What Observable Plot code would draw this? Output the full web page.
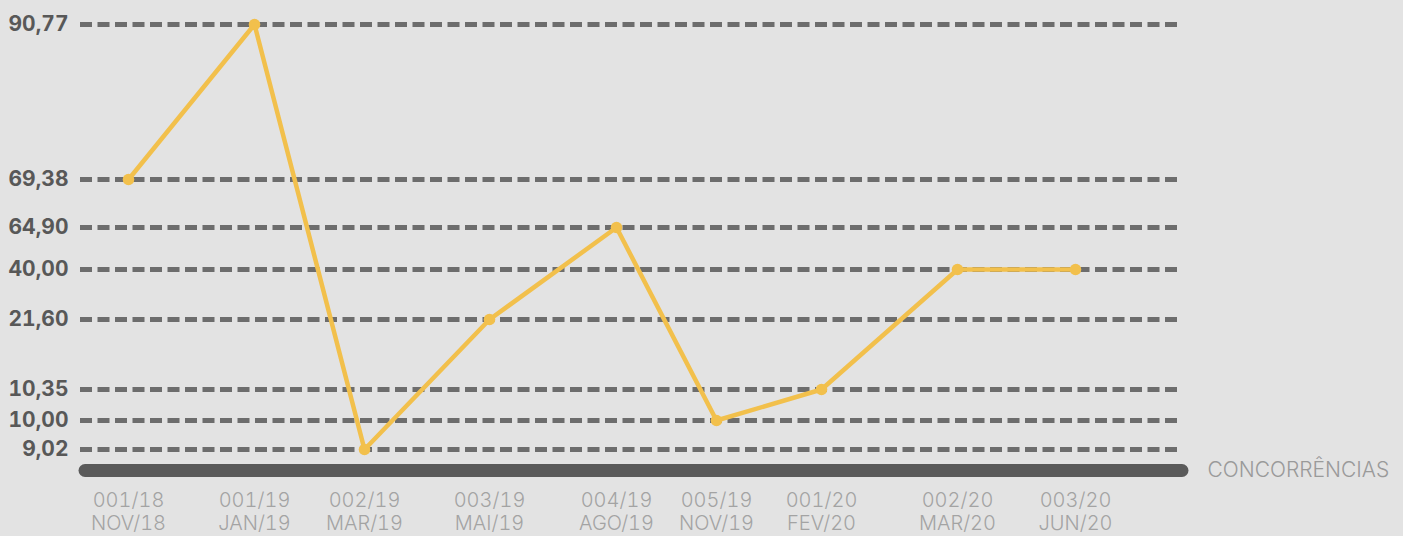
<!DOCTYPE html>
<html>
<head>
<meta charset="utf-8">
<script src="https://cdn.jsdelivr.net/npm/d3@7"></script>
<script src="https://cdn.jsdelivr.net/npm/@observablehq/plot@0.6"></script>
<style>
  html, body { margin: 0; padding: 0; background: #e3e3e3; }
  #chart svg { display: block; }
</style>
</head>
<body>
<div id="chart"></div>
<script>
// Data
const codes  = ["001/18", "001/19", "002/19", "003/19", "004/19", "005/19", "001/20", "002/20", "003/20"];
const months = ["NOV/18", "JAN/19", "MAR/19", "MAI/19", "AGO/19", "NOV/19", "FEV/20", "MAR/20", "JUN/20"];
const values = [69.38, 90.77, 9.02, 21.60, 64.90, 10.00, 10.35, 40.00, 40.00];
const yTicks = [9.02, 10.00, 10.35, 21.60, 40.00, 64.90, 69.38, 90.77];
const axisTitle = "CONCORRÊNCIAS";

const rows = values.map((v, i) => ({i, code: codes[i], month: months[i], v}));
const fmt = d => d.toFixed(2).replace(".", ",");

const chart = Plot.plot({
  width: 1403,
  height: 536,
  marginLeft: 80,
  marginRight: 225,
  marginTop: 24,
  marginBottom: 66,
  style: {background: "transparent", fontFamily: "Inter, 'Open Sans', sans-serif"},
  x: {type: "linear", domain: d3.range(codes.length), range: [128, 254, 364, 489, 616, 716, 821, 957, 1075]},
  y: {type: "linear", domain: yTicks, range: [449, 420, 389, 319, 269, 227, 179, 24]},
  marks: [
    Plot.ruleY(yTicks, {stroke: "#6d6d6d", strokeWidth: 5, strokeDasharray: "12,5.5"}),
    Plot.frame({anchor: "bottom", stroke: "#5a5a5a", strokeWidth: 13, strokeLinecap: "round", insetLeft: 4.5, insetRight: -3.5}),
    Plot.axisY({ticks: yTicks, tickSize: 0, tickPadding: 12, tickFormat: fmt, fontSize: 21, fontWeight: 700, fill: "#585858", label: null}),
    Plot.axisX({ticks: d3.range(codes.length), tickSize: 0, tickPadding: 21, tickFormat: i => codes[i] + "\n" + months[i], fontSize: 20, fontWeight: 300, fill: "#a3a3a3", lineHeight: 1.12, label: null}),
    Plot.text([axisTitle], {frameAnchor: "bottom-right", textAnchor: "start", lineAnchor: "middle", dx: 29, fontSize: 21, fontWeight: 300, fill: "#9a9a9a"}),
    Plot.line(rows, {x: "i", y: "v", stroke: "#f2c04c", strokeWidth: 4.5, strokeLinejoin: "round"}),
    Plot.dot(rows, {x: "i", y: "v", r: 5.8, fill: "#f2c04c", stroke: "none"})
  ]
});
document.getElementById("chart").appendChild(chart);
</script>
</body>
</html>
